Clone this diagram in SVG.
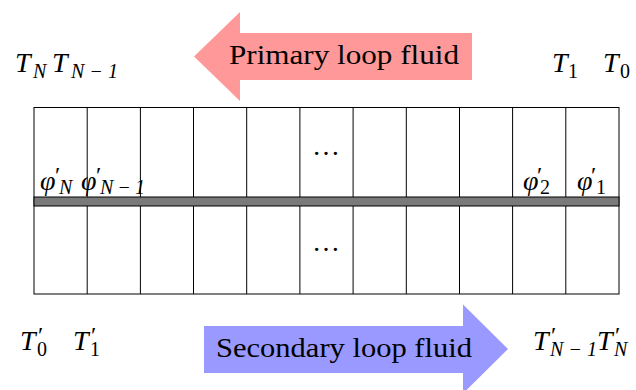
<svg xmlns="http://www.w3.org/2000/svg" width="636" height="390" viewBox="0 0 636 390">
<rect width="636" height="390" fill="#fff"/>
<g id="primary-arrow">
<polygon points="472,33 240,33 240,12 194,56.5 240,101 240,80 472,80" fill="#ff9999"/>
<text x="229" y="64" font-size="27" font-family="'Liberation Serif', serif" textLength="230" lengthAdjust="spacingAndGlyphs">Primary loop fluid</text>
</g>
<g id="secondary-arrow">
<polygon points="204,326 463,326 463,304.5 508,349 463,393.5 463,373 204,373" fill="#9999ff"/>
<text x="216" y="357" font-size="27" font-family="'Liberation Serif', serif" textLength="256" lengthAdjust="spacingAndGlyphs">Secondary loop fluid</text>
</g>
<g id="exchanger">
<rect x="34" y="107.5" width="585" height="186.5" fill="none" stroke="#000" stroke-width="1"/>
<path d="M87.2 107.5V294M140.4 107.5V294M193.5 107.5V294M246.7 107.5V294M299.9 107.5V294M353.1 107.5V294M406.3 107.5V294M459.5 107.5V294M512.6 107.5V294M565.8 107.5V294" fill="none" stroke="#000" stroke-width="1"/>
<rect x="34" y="197" width="585" height="9" fill="#7a7a7a" stroke="#000" stroke-width="1"/>
<text x="326" y="155" font-size="28" font-family="'Liberation Serif', serif" text-anchor="middle">&#8230;</text>
<text x="326" y="251" font-size="28" font-family="'Liberation Serif', serif" text-anchor="middle">&#8230;</text>
</g>
<g id="phi-labels">
<text font-family="'Liberation Serif', serif" font-style="italic"><tspan x="40" y="190" font-size="28">&#966;</tspan><tspan x="55" y="183" font-size="24" font-style="normal">&#8242;</tspan><tspan x="59" y="194" font-size="20">N</tspan></text>
<text font-family="'Liberation Serif', serif" font-style="italic"><tspan x="81" y="190" font-size="28">&#966;</tspan><tspan x="96" y="183" font-size="24" font-style="normal">&#8242;</tspan><tspan x="100" y="194" font-size="20" textLength="45">N&#8722;1</tspan></text>
<text font-family="'Liberation Serif', serif" font-style="italic"><tspan x="523" y="190" font-size="28">&#966;</tspan><tspan x="537" y="183" font-size="24" font-style="normal">&#8242;</tspan><tspan x="540" y="194" font-size="20" font-style="normal">2</tspan></text>
<text font-family="'Liberation Serif', serif" font-style="italic"><tspan x="577" y="190" font-size="28">&#966;</tspan><tspan x="591" y="183" font-size="24" font-style="normal">&#8242;</tspan><tspan x="596" y="194" font-size="20" font-style="normal">1</tspan></text>
</g>
<g id="primary-temps">
<text font-family="'Liberation Serif', serif" font-style="italic"><tspan x="15" y="72" font-size="28">T</tspan><tspan x="33" y="78" font-size="20">N</tspan></text>
<text font-family="'Liberation Serif', serif" font-style="italic"><tspan x="52" y="72" font-size="28">T</tspan><tspan x="71" y="78" font-size="20" textLength="47">N&#8722;1</tspan></text>
<text font-family="'Liberation Serif', serif" font-style="italic"><tspan x="552" y="72" font-size="28">T</tspan><tspan x="568" y="78" font-size="20" font-style="normal">1</tspan></text>
<text font-family="'Liberation Serif', serif" font-style="italic"><tspan x="603" y="72" font-size="28">T</tspan><tspan x="620" y="78" font-size="20" font-style="normal">0</tspan></text>
</g>
<g id="secondary-temps">
<text font-family="'Liberation Serif', serif" font-style="italic"><tspan x="20" y="350" font-size="28">T</tspan><tspan x="38" y="343" font-size="24" font-style="normal">&#8242;</tspan><tspan x="37" y="356" font-size="20" font-style="normal">0</tspan></text>
<text font-family="'Liberation Serif', serif" font-style="italic"><tspan x="73" y="350" font-size="28">T</tspan><tspan x="91" y="343" font-size="24" font-style="normal">&#8242;</tspan><tspan x="90" y="356" font-size="20" font-style="normal">1</tspan></text>
<text font-family="'Liberation Serif', serif" font-style="italic"><tspan x="533" y="350" font-size="28">T</tspan><tspan x="551" y="343" font-size="24" font-style="normal">&#8242;</tspan><tspan x="550" y="356" font-size="20" textLength="47">N&#8722;1</tspan></text>
<text font-family="'Liberation Serif', serif" font-style="italic"><tspan x="597" y="350" font-size="28">T</tspan><tspan x="615" y="343" font-size="24" font-style="normal">&#8242;</tspan><tspan x="614" y="356" font-size="20">N</tspan></text>
</g>
</svg>
